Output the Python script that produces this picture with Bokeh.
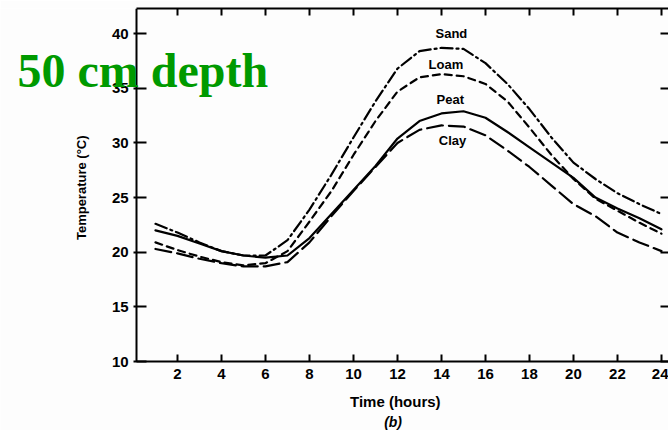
from bokeh.plotting import figure
from bokeh.models import LinearAxis, FixedTicker, Range1d, Label, ColumnDataSource
from bokeh.core.properties import value
from bokeh.embed import file_html
from bokeh.resources import INLINE

hours = list(range(1, 25))
sand = [22.6, 21.8, 20.9, 20.1, 19.7, 19.7, 21.1, 23.9, 27.1, 30.5, 33.8, 36.8,
        38.4, 38.7, 38.6, 37.3, 35.4, 33.1, 30.5, 28.2, 26.7, 25.4, 24.4, 23.5]
loam = [20.9, 20.2, 19.6, 19.1, 18.8, 19.0, 20.1, 22.8, 25.6, 28.9, 32.0, 34.7,
        36.0, 36.3, 36.1, 35.4, 33.8, 31.4, 28.9, 26.7, 24.9, 23.8, 22.7, 21.7]
peat = [22.0, 21.5, 20.8, 20.1, 19.7, 19.5, 19.7, 21.3, 23.5, 25.7, 27.9, 30.4,
        32.0, 32.7, 32.9, 32.3, 31.0, 29.6, 28.2, 26.8, 25.0, 24.0, 23.1, 22.1]
clay = [20.3, 19.9, 19.4, 19.0, 18.7, 18.7, 19.1, 20.9, 23.3, 25.6, 27.8, 30.0,
        31.2, 31.6, 31.5, 30.7, 29.3, 27.8, 26.1, 24.4, 23.3, 21.8, 20.9, 20.1]

soil_names = ["Sand", "Loam", "Peat", "Clay"]
label_x = [14.45, 14.2, 14.4, 14.5]
label_y = [40.0, 37.2, 34.0, 30.2]

x_ticks = list(range(2, 25, 2))
y_ticks = list(range(10, 41, 5))

title_text = "50 cm depth"
x_label = "Time (hours)"
y_label = "Temperature (\u00b0C)"
panel_tag = "(b)"

FONT = "Liberation Sans"
X0, X1 = 0.14, 24.32   # extent of the drawn box in hours
Y0, Y1 = 10.0, 42.3    # extent of the drawn box in degrees

p = figure(width=668, height=430, output_backend="svg", toolbar_location=None,
           x_range=Range1d(-6.045, X1), y_range=Range1d(3.69, Y1),
           min_border_left=0, min_border_right=0, min_border_top=8,
           min_border_bottom=0)
p.background_fill_color = "#fdfdfd"
p.border_fill_color = "#fdfdfd"
p.outline_line_color = None
p.xgrid.visible = False
p.ygrid.visible = False

# bottom axis, pinned at the box's bottom edge
xa = p.xaxis[0]
xa.fixed_location = Y0
xa.ticker = FixedTicker(ticks=x_ticks)
xa.bounds = (X0, X1)
xa.axis_line_width = 2
xa.major_tick_line_width = 2
xa.major_tick_in = 7
xa.major_tick_out = 0
xa.minor_tick_line_color = None
xa.major_label_standoff = 7
xa.major_label_text_font = FONT
xa.major_label_text_font_style = "bold"
xa.major_label_text_font_size = "15px"
xa.major_label_text_color = "black"

# left axis, pinned at the box's left edge
ya = p.yaxis[0]
ya.fixed_location = X0
ya.bounds = (Y0, Y1)
ya.ticker = FixedTicker(ticks=y_ticks)
ya.axis_line_width = 2
ya.major_tick_line_width = 2
ya.major_tick_in = 10
ya.major_tick_out = 3
ya.minor_tick_line_color = None
ya.major_label_standoff = 5
ya.major_label_text_font = FONT
ya.major_label_text_font_style = "bold"
ya.major_label_text_font_size = "15px"
ya.major_label_text_color = "black"

# top axis (ticks only)
top = LinearAxis(ticker=FixedTicker(ticks=x_ticks), bounds=(X0, X1))
top.axis_line_width = 2
top.major_tick_line_width = 2
top.major_tick_in = 7
top.major_tick_out = 0
top.minor_tick_line_color = None
top.major_label_text_font_size = "0px"
top.major_label_standoff = 0
p.add_layout(top, "above")

# right axis (ticks only, its line lies beyond the window)
right = LinearAxis(ticker=FixedTicker(ticks=y_ticks), bounds=(Y0, Y1))
right.axis_line_color = None
right.major_tick_line_width = 2
right.major_tick_in = 8
right.major_tick_out = 0
right.minor_tick_line_color = None
right.major_label_text_font_size = "0px"
right.major_label_standoff = 0
p.add_layout(right, "right")

styles = [("12 4 2 4", sand), ("7 5", loam), ("solid", peat), ("16 6", clay)]
for dash, ys in styles:
    p.line(hours, ys, line_color="black", line_width=2.2, line_dash=dash,
           line_join="round", line_cap="round")

src = ColumnDataSource(dict(x=label_x, y=label_y, t=soil_names))
p.text(x="x", y="y", text="t", source=src, text_font=value(FONT),
       text_font_style="bold", text_font_size="13px", text_align="center",
       text_baseline="middle", text_color="black")

# axis titles and panel tag
p.add_layout(Label(x=11.9, y=6.34, text=x_label, text_font=FONT,
                   text_font_style="bold", text_font_size="15px",
                   text_align="center", text_baseline="middle", text_color="black"))
p.add_layout(Label(x=11.8, y=4.5, text=panel_tag, text_font=FONT,
                   text_font_style="bold italic", text_font_size="14px",
                   text_align="center", text_baseline="middle", text_color="black"))
p.add_layout(Label(x=-2.35, y=25.9, text=y_label, text_font=FONT,
                   text_font_style="bold", text_font_size="13px", angle=90,
                   angle_units="deg", text_align="center", text_baseline="middle",
                   text_color="black"))

p.add_layout(Label(x=-5.27, y=36.6, text=title_text, text_font="Liberation Serif",
                   text_font_style="bold", text_font_size="48px",
                   text_align="left", text_baseline="alphabetic",
                   text_color="#009a00"))

open("out.html", "w").write(file_html(p, INLINE))
